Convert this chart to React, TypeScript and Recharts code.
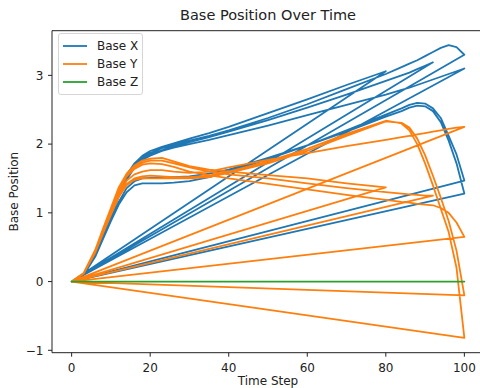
import { LineChart, Line, XAxis, YAxis, Legend, ReferenceLine, Label } from "recharts"

// time steps sampled inside every episode (episodes are logged back to back)
const steps = [0, 3, 6, 8, 10, 12, 14, 16, 18, 20, 23, 26, 30, 35, 40, 50, 60, 70, 80, 84, 86, 88, 90, 92, 94, 96, 98, 100]

const baseX = [
  [0, 0.1, 0.4, 0.69, 0.98, 1.28, 1.52, 1.7, 1.8, 1.87, 1.94, 1.99, 2.05, 2.12, 2.2, 2.38, 2.58, 2.8, 3.02, 3.12, 3.17, 3.22, 3.28, 3.34, 3.4, 3.44, 3.41, 3.3],
  [0, 0.1, 0.4, 0.7, 1.0, 1.3, 1.55, 1.72, 1.83, 1.9, 1.96, 2.01, 2.08, 2.16, 2.25, 2.45, 2.65, 2.86, 3.06],
  [0, 0.1, 0.39, 0.68, 0.97, 1.26, 1.5, 1.68, 1.79, 1.85, 1.91, 1.97, 2.03, 2.1, 2.18, 2.35, 2.53, 2.72, 2.92, 3.0, 3.04, 3.09, 3.14, 3.19],
  [0, 0.1, 0.39, 0.67, 0.95, 1.24, 1.48, 1.66, 1.77, 1.83, 1.9, 1.95, 2.0, 2.06, 2.13, 2.27, 2.42, 2.57, 2.72, 2.79, 2.82, 2.86, 2.9, 2.94, 2.98, 3.02, 3.06, 3.1],
  [0, 0.09, 0.36, 0.62, 0.88, 1.12, 1.3, 1.4, 1.43, 1.43, 1.43, 1.44, 1.46, 1.52, 1.6, 1.78, 1.98, 2.2, 2.43, 2.52, 2.57, 2.6, 2.59, 2.52, 2.38, 2.12, 1.85, 1.47],
  [0, 0.09, 0.37, 0.64, 0.9, 1.16, 1.36, 1.46, 1.5, 1.51, 1.52, 1.52, 1.53, 1.57, 1.63, 1.8, 1.98, 2.18, 2.4, 2.48, 2.53, 2.56, 2.55, 2.48, 2.32, 2.05, 1.72, 1.28],
  [0, 0.1, 0.4],
]

const baseY = [
  [0, 0.12, 0.45, 0.75, 1.04, 1.33, 1.53, 1.64, 1.7, 1.72, 1.71, 1.67, 1.6, 1.55, 1.5, 1.42, 1.34, 1.26, 1.19, 1.16, 1.15, 1.13, 1.12, 1.11, 1.07, 1.0, 0.86, 0.65],
  [0, 0.12, 0.46, 0.77, 1.07, 1.37, 1.57, 1.69, 1.76, 1.79, 1.8, 1.75, 1.68, 1.63, 1.6, 1.55, 1.5, 1.43, 1.37],
  [0, 0.12, 0.45, 0.76, 1.05, 1.35, 1.55, 1.67, 1.73, 1.76, 1.76, 1.72, 1.66, 1.6, 1.56, 1.5, 1.43, 1.36, 1.3, 1.28, 1.27, 1.26, 1.25, 1.25],
  [0, 0.11, 0.43, 0.73, 1.01, 1.29, 1.47, 1.56, 1.6, 1.62, 1.62, 1.6, 1.58, 1.6, 1.66, 1.77, 1.87, 1.97, 2.06, 2.1, 2.12, 2.14, 2.16, 2.18, 2.2, 2.22, 2.24, 2.25],
  [0, 0.11, 0.42, 0.71, 0.98, 1.25, 1.42, 1.5, 1.53, 1.54, 1.53, 1.52, 1.52, 1.54, 1.6, 1.75, 1.93, 2.15, 2.34, 2.3, 2.2, 2.0, 1.72, 1.4, 1.06, 0.72, 0.2, -0.82],
  [0, 0.11, 0.42, 0.7, 0.97, 1.23, 1.4, 1.48, 1.5, 1.5, 1.5, 1.5, 1.5, 1.52, 1.58, 1.72, 1.9, 2.12, 2.33, 2.31, 2.24, 2.08, 1.84, 1.54, 1.22, 0.88, 0.45, -0.2],
  [0, 0.12, 0.45],
]

// z stays on the floor: value at first and last step of each episode
const episodeEnds = [100, 80, 92, 100, 100, 100, 6]
const baseZ = [[0, 0], [0, 0], [0, 0], [0, 0], [0, 0], [0, 0], [0, 0]]

const yTicks = [-1, 0, 1, 2, 3]
const xTicks = [0, 20, 40, 60, 80, 100]

const toSeries = (episodes: number[][]) =>
  episodes.flatMap((vals) => vals.map((v, i) => ({ t: steps[i], v })))

const xData = toSeries(baseX)
const yData = toSeries(baseY)
const zData = baseZ.flatMap((z, e) => [
  { t: 0, v: z[0] },
  { t: episodeEnds[e], v: z[1] },
])

const font = "'DejaVu Sans', sans-serif"
const tickStyle = { fontSize: 12, fill: "#222", fontFamily: font }

function renderLegend(props: any) {
  const { payload } = props
  return (
    <div
      style={{
        boxSizing: "border-box",
        width: 85,
        height: 62,
        padding: "3px 0 0 4px",
        border: "1px solid #d6d6d6",
        borderRadius: 3,
        background: "rgba(255,255,255,0.8)",
        fontFamily: font,
        fontSize: 12,
        color: "#222",
      }}
    >
      {payload.map((entry: any) => (
        <div key={entry.value} style={{ display: "flex", alignItems: "center", height: 18, lineHeight: "18px" }}>
          <svg width={24} height={4} style={{ display: "block" }}>
            <line x1={0} y1={2} x2={24} y2={2} stroke={entry.color} strokeWidth={1.8} />
          </svg>
          <span style={{ marginLeft: 10, whiteSpace: "nowrap" }}>{entry.value}</span>
        </div>
      ))}
    </div>
  )
}

export default function App() {
  return (
    <div style={{ position: "absolute", left: 0, top: 0, width: 480, height: 388, overflow: "hidden", background: "#fff" }}>
      <div
        style={{
          position: "absolute",
          left: 52,
          top: 6.5,
          width: 432,
          textAlign: "center",
          fontFamily: font,
          fontSize: 14.5,
          lineHeight: "17px",
          color: "#222",
        }}
      >
        Base Position Over Time
      </div>
      <LineChart width={486} height={388} margin={{ top: 30.7, right: 2, bottom: 0, left: 0 }}>
        <XAxis
          dataKey="t"
          type="number"
          domain={[-5, 105]}
          ticks={xTicks}
          allowDataOverflow
          height={35.3}
          tickSize={4}
          tickMargin={7}
          tick={tickStyle}
          stroke="#222"
        >
          <Label
            content={() => (
              <text x={268} y={384.5} textAnchor="middle" fontSize={12} fontFamily={font} fill="#222">
                Time Step
              </text>
            )}
          />
        </XAxis>
        <YAxis
          type="number"
          domain={[-1.035, 3.65]}
          ticks={yTicks}
          allowDataOverflow
          width={52}
          tickSize={4}
          tickMargin={4.5}
          tick={tickStyle}
          tickFormatter={(v: number) => (v < 0 ? `\u2212${Math.abs(v)}` : `${v}`)}
          stroke="#222"
        >
          <Label
            content={() => (
              <text
                x={18.2}
                y={191.7}
                transform="rotate(-90 18.2 191.7)"
                textAnchor="middle"
                fontSize={12}
                fontFamily={font}
                fill="#222"
              >
                Base Position
              </text>
            )}
          />
        </YAxis>
        <ReferenceLine y={3.65} stroke="#222" strokeWidth={1} />
        <ReferenceLine x={105} stroke="#222" strokeWidth={1} />
        <Line data={xData} dataKey="v" name="Base X" type="linear" stroke="#1f77b4" strokeWidth={1.8} dot={false} isAnimationActive={false} strokeLinejoin="round" />
        <Line data={yData} dataKey="v" name="Base Y" type="linear" stroke="#ff7f0e" strokeWidth={1.8} dot={false} isAnimationActive={false} strokeLinejoin="round" />
        <Line data={zData} dataKey="v" name="Base Z" type="linear" stroke="#2ca02c" strokeWidth={1.8} dot={false} isAnimationActive={false} strokeLinejoin="round" />
        <Legend
          layout="vertical"
          align="center"
          verticalAlign="middle"
          content={renderLegend}
          wrapperStyle={{ top: 33, left: 58, width: 85, height: 62 }}
        />
      </LineChart>
    </div>
  )
}
